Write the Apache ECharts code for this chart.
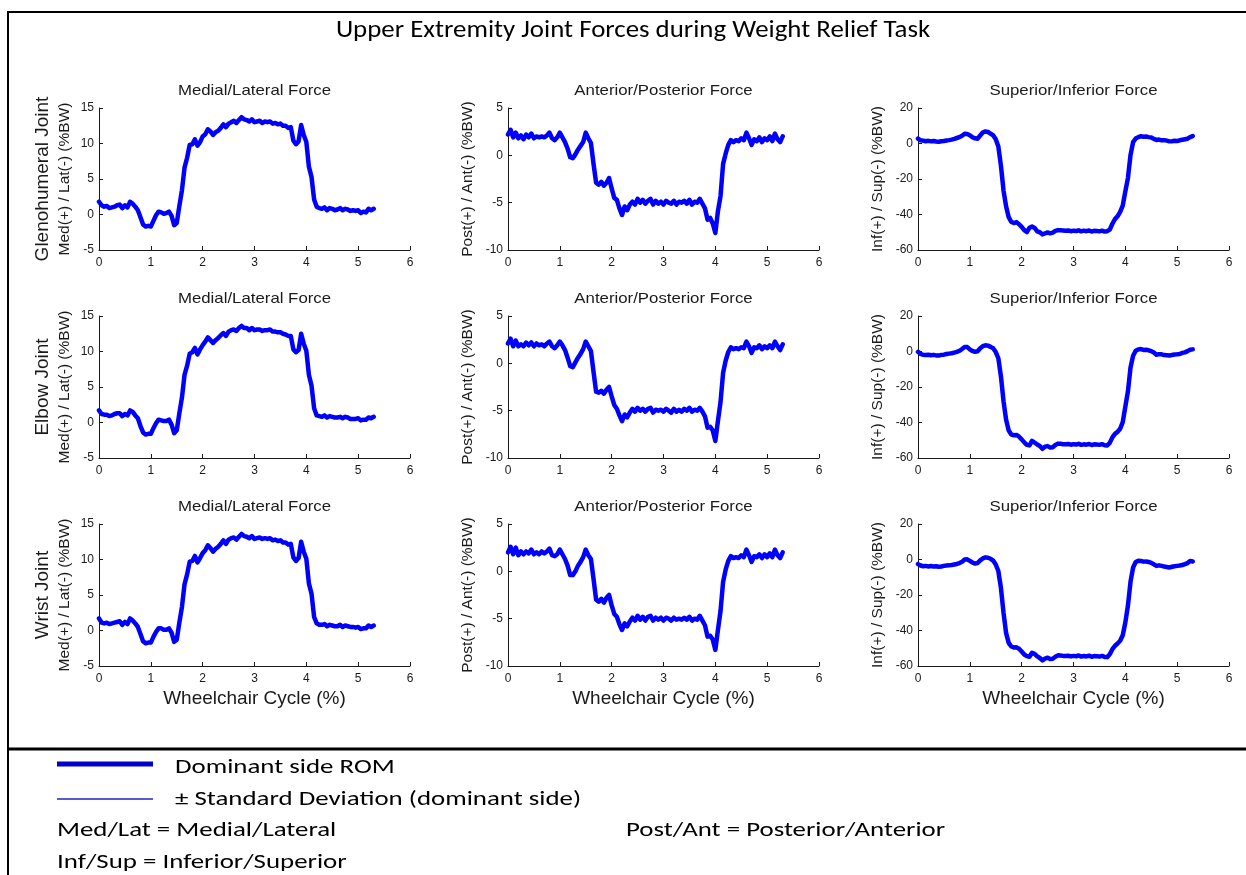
<!DOCTYPE html>
<html>
<head>
<meta charset="utf-8">
<title>Upper Extremity Joint Forces during Weight Relief Task</title>
<script src="https://cdn.jsdelivr.net/npm/echarts@6/dist/echarts.min.js"></script>
<style>
  html, body { margin: 0; padding: 0; background: #fff; }
  #chart { width: 1246px; height: 875px; }
</style>
</head>
<body>
<div id="chart"></div>
<script>
// Sample positions along the wheelchair cycle (%)
const cycle = [
  0.00,0.05,0.10,0.15,0.20,0.25,0.30,0.35,0.40,0.45,
  0.50,0.55,0.60,0.65,0.70,0.75,0.80,0.85,0.90,0.95,
  1.00,1.05,1.10,1.15,1.20,1.25,1.30,1.35,1.40,1.45,
  1.50,1.55,1.60,1.65,1.70,1.75,1.80,1.85,1.90,1.95,
  2.00,2.05,2.10,2.15,2.20,2.25,2.30,2.35,2.40,2.45,
  2.50,2.55,2.60,2.65,2.70,2.75,2.80,2.85,2.90,2.95,
  3.00,3.05,3.10,3.15,3.20,3.25,3.30,3.35,3.40,3.45,
  3.50,3.55,3.60,3.65,3.70,3.75,3.80,3.85,3.90,3.95,
  4.00,4.05,4.10,4.15,4.20,4.25,4.30,4.35,4.40,4.45,
  4.50,4.55,4.60,4.65,4.70,4.75,4.80,4.85,4.90,4.95,
  5.00,5.05,5.10,5.15,5.20,5.25,5.30
];

// Glenohumeral joint (%BW)
const shoulderMedLat = [
  1.8,1.3,1.1,1.2,0.9,1.0,1.1,1.3,1.4,0.9,
  1.3,1.0,1.8,1.5,1.1,0.6,-0.4,-1.4,-1.7,-1.6,
  -1.7,-0.9,-0.1,0.4,0.3,0.1,0.2,0.4,-0.2,-1.5,
  -1.2,1.2,3.4,6.6,8.0,9.8,9.9,10.6,9.7,10.2,
  11.0,11.3,12.0,11.7,11.2,11.6,11.8,12.2,12.7,12.3,
  12.8,13.0,13.2,12.9,13.3,13.7,13.4,13.3,13.1,13.4,
  13.0,13.1,13.2,12.9,13.1,13.0,13.1,12.8,12.9,12.7,
  12.8,12.5,12.5,12.2,12.3,10.4,9.9,10.3,12.6,11.2,
  10.2,6.7,5.3,2.1,1.1,0.9,0.8,1.0,0.6,0.9,
  0.8,0.6,0.7,0.9,0.6,0.8,0.7,0.5,0.6,0.5,
  0.6,0.2,0.4,0.3,0.8,0.6,0.8
];
const shoulderPostAnt = [
  2.2,2.7,1.9,2.4,1.8,2.1,1.7,2.2,1.9,2.3,
  1.8,2.0,1.9,2.0,1.9,2.1,2.4,1.8,1.6,1.9,
  2.4,1.9,1.4,0.7,-0.2,-0.3,0.1,0.6,1.0,1.4,
  2.4,1.8,1.3,-0.9,-2.9,-3.1,-2.8,-3.2,-2.9,-2.4,
  -3.5,-4.5,-4.7,-5.6,-6.3,-5.4,-5.8,-5.2,-4.9,-5.2,
  -4.6,-5.0,-4.7,-5.1,-4.8,-4.6,-5.2,-4.8,-5.1,-4.9,
  -5.2,-4.8,-5.0,-5.1,-4.8,-5.2,-4.9,-5.0,-4.8,-5.1,
  -4.7,-5.2,-4.9,-5.0,-4.6,-5.1,-5.6,-6.8,-6.6,-7.2,
  -8.2,-5.9,-4.3,-0.9,0.2,1.1,1.6,1.4,1.6,1.5,
  1.8,1.6,2.4,1.8,1.1,1.7,1.5,1.9,1.4,1.8,
  1.6,2.0,1.5,2.3,1.7,1.4,2.0
];
const shoulderInfSup = [
  2.8,1.8,1.6,1.3,1.5,1.2,1.4,1.1,1.0,1.3,
  1.4,1.7,1.9,2.2,2.6,3.1,3.6,4.4,5.5,5.4,
  4.7,3.5,2.9,2.7,4.5,6.2,6.8,6.5,5.6,4.6,
  2.4,-1.7,-12.5,-26.5,-35.5,-41.5,-44.2,-44.8,-44.3,-45.5,
  -47.0,-48.8,-49.9,-47.5,-46.8,-47.6,-49.5,-50.0,-51.2,-50.7,
  -50.1,-50.6,-50.2,-49.2,-48.8,-48.9,-49.0,-49.2,-49.0,-49.4,
  -49.1,-49.3,-48.9,-49.5,-49.1,-49.4,-49.0,-49.6,-49.2,-49.3,
  -49.5,-49.1,-49.6,-49.4,-48.5,-45.2,-42.6,-41.0,-38.5,-35.0,
  -27.0,-19.5,-6.5,0.8,2.8,3.6,4.1,3.8,3.9,3.6,
  3.4,2.6,2.0,2.2,1.8,1.9,1.6,1.2,1.3,1.5,
  1.4,1.8,2.1,2.4,2.7,3.6,4.2
];

// Elbow joint (%BW)
const elbowMedLat = [
  1.7,1.2,1.1,1.1,0.9,1.0,1.2,1.3,1.3,0.9,
  1.2,1.0,1.7,1.5,1.0,0.6,-0.5,-1.4,-1.7,-1.6,
  -1.6,-0.8,-0.1,0.4,0.3,0.2,0.2,0.4,-0.3,-1.5,
  -1.1,1.3,3.5,6.7,8.0,9.7,9.9,10.5,9.6,10.3,
  10.9,11.4,12.0,11.6,11.2,11.6,11.9,12.3,12.6,12.2,
  12.8,13.0,13.1,12.9,13.3,13.6,13.3,13.3,13.0,13.3,
  13.0,13.1,13.1,12.9,13.0,13.0,13.1,12.8,12.8,12.7,
  12.7,12.5,12.4,12.2,12.2,10.3,9.9,10.2,12.5,11.1,
  10.1,6.7,5.2,2.0,1.0,0.9,0.8,1.0,0.7,0.9,
  0.8,0.7,0.7,0.8,0.6,0.8,0.7,0.5,0.5,0.5,
  0.6,0.3,0.4,0.4,0.7,0.6,0.8
];
const elbowPostAnt = [
  2.1,2.6,1.8,2.4,1.8,2.0,1.8,2.2,1.9,2.2,
  1.8,2.1,1.9,2.0,1.8,2.1,2.3,1.8,1.6,1.9,
  2.3,1.9,1.4,0.6,-0.3,-0.4,0.1,0.6,1.0,1.5,
  2.3,1.8,1.3,-0.9,-3.0,-3.1,-2.9,-3.2,-2.8,-2.5,
  -3.5,-4.4,-4.8,-5.5,-6.1,-5.4,-5.7,-5.2,-4.8,-5.1,
  -4.7,-5.0,-4.8,-5.1,-4.8,-4.7,-5.2,-4.9,-5.0,-4.9,
  -5.1,-4.8,-5.0,-5.2,-4.8,-5.1,-4.9,-5.1,-4.8,-5.0,
  -4.7,-5.1,-4.9,-5.0,-4.7,-5.1,-5.6,-6.8,-6.7,-7.1,
  -8.2,-6.1,-4.1,-1.0,0.3,1.2,1.7,1.5,1.6,1.5,
  1.7,1.6,2.3,1.8,1.1,1.7,1.6,1.9,1.5,1.8,
  1.6,1.9,1.6,2.3,1.8,1.4,2.0
];
const elbowInfSup = [
  -0.2,-1.4,-1.9,-2.0,-1.8,-2.1,-1.9,-2.2,-2.3,-1.9,
  -1.8,-1.4,-1.2,-1.0,-0.6,-0.2,0.4,1.4,2.6,2.5,
  1.2,0.3,-0.2,0.1,1.8,3.0,3.5,3.3,2.6,1.8,
  -0.3,-3.8,-14.0,-28.0,-38.5,-44.5,-46.8,-47.2,-47.0,-48.0,
  -49.5,-51.2,-52.6,-52.9,-50.4,-51.3,-52.4,-53.2,-54.8,-53.6,
  -53.3,-54.1,-53.9,-52.7,-51.9,-52.0,-52.2,-52.3,-52.1,-52.5,
  -52.2,-52.4,-52.0,-52.6,-52.3,-52.5,-52.1,-52.7,-52.3,-52.4,
  -52.6,-52.2,-52.8,-52.9,-51.5,-48.4,-46.4,-45.3,-43.5,-39.8,
  -31.0,-22.5,-9.0,-2.4,0.4,1.2,1.4,0.9,1.0,0.7,
  0.2,-0.6,-1.8,-1.5,-1.6,-2.0,-2.1,-2.3,-2.0,-1.7,
  -1.6,-1.4,-0.8,-0.5,0.2,1.0,1.2
];

// Wrist joint (%BW)
const wristMedLat = [
  1.7,1.1,1.0,1.1,0.9,1.0,1.1,1.2,1.3,0.8,
  1.2,0.9,1.7,1.4,1.0,0.5,-0.5,-1.5,-1.8,-1.7,
  -1.7,-0.9,-0.2,0.3,0.3,0.1,0.1,0.3,-0.3,-1.6,
  -1.3,1.1,3.3,6.5,7.9,9.7,9.8,10.5,9.6,10.2,
  10.9,11.3,12.0,11.6,11.1,11.5,11.8,12.2,12.7,12.2,
  12.8,13.0,13.1,12.8,13.2,13.6,13.3,13.2,13.0,13.3,
  12.9,13.0,13.1,12.9,13.0,12.9,13.0,12.7,12.8,12.6,
  12.7,12.4,12.4,12.1,12.2,10.3,9.8,10.2,12.5,11.1,
  10.1,6.6,5.2,1.9,1.0,0.8,0.8,0.9,0.6,0.8,
  0.7,0.6,0.6,0.8,0.5,0.7,0.6,0.5,0.5,0.4,
  0.5,0.2,0.3,0.3,0.7,0.5,0.7
];
const wristPostAnt = [
  2.0,2.6,1.8,2.5,1.7,2.1,1.8,2.1,1.9,2.3,
  1.8,2.0,1.8,2.1,1.9,2.1,2.4,1.7,1.6,1.8,
  2.3,1.8,1.3,0.6,-0.4,-0.4,0.0,0.6,1.0,1.5,
  2.3,1.7,1.3,-0.8,-3.0,-3.2,-2.9,-3.3,-2.8,-2.5,
  -3.6,-4.5,-4.8,-5.6,-6.2,-5.5,-5.8,-5.3,-4.9,-5.2,
  -4.7,-5.1,-4.8,-5.2,-4.8,-4.7,-5.2,-4.9,-5.1,-4.9,
  -5.2,-4.9,-5.0,-5.2,-4.9,-5.1,-5.0,-5.1,-4.9,-5.1,
  -4.8,-5.2,-5.0,-5.1,-4.7,-5.2,-5.7,-6.9,-6.8,-7.2,
  -8.3,-6.2,-4.2,-1.1,0.2,1.1,1.6,1.4,1.5,1.4,
  1.7,1.5,2.3,1.7,1.0,1.6,1.5,1.8,1.4,1.8,
  1.5,1.9,1.5,2.3,1.7,1.4,2.0
];
const wristInfSup = [
  -2.6,-3.4,-3.8,-3.6,-3.9,-3.7,-4.0,-3.8,-4.1,-3.9,
  -3.6,-3.4,-3.3,-3.1,-2.8,-2.5,-2.0,-1.3,0.0,0.1,
  -0.8,-1.7,-2.3,-2.0,-0.5,0.6,1.2,1.0,0.4,-0.6,
  -2.8,-6.5,-16.0,-30.0,-41.5,-47.0,-49.0,-49.6,-49.5,-50.3,
  -51.8,-53.5,-54.4,-54.8,-52.6,-53.2,-54.6,-55.5,-56.8,-55.8,
  -55.3,-56.1,-55.9,-54.8,-54.0,-54.1,-54.3,-54.4,-54.2,-54.6,
  -54.3,-54.5,-54.1,-54.7,-54.4,-54.6,-54.2,-54.8,-54.4,-54.5,
  -54.7,-54.3,-54.9,-55.0,-53.4,-50.5,-48.6,-47.3,-45.8,-42.7,
  -35.5,-26.0,-12.5,-4.5,-1.4,-0.7,-0.8,-1.2,-1.1,-1.4,
  -1.9,-2.7,-3.6,-3.3,-3.6,-4.0,-4.2,-4.5,-4.1,-3.8,
  -3.6,-3.4,-3.1,-2.6,-2.0,-0.8,-1.1
];

// Labels
const mainTitle = 'Upper Extremity Joint Forces during Weight Relief Task';
const jointNames = ['Glenohumeral Joint', 'Elbow Joint', 'Wrist Joint'];
const forceTitles = ['Medial/Lateral Force', 'Anterior/Posterior Force', 'Superior/Inferior Force'];
const forceAxisNames = ['Med(+) / Lat(-) (%BW)', 'Post(+) / Ant(-) (%BW)', 'Inf(+) / Sup(-) (%BW)'];
const cycleAxisName = 'Wheelchair Cycle (%)';
const yMins = [-5, -10, -60];
const yMaxs = [15, 5, 20];
const yIntervals = [5, 5, 20];
const xMin = 0, xMax = 6, xInterval = 1;
const legendEntries = ['Dominant side ROM', '\u00B1 Standard Deviation (dominant side)'];
const abbreviations = ['Med/Lat = Medial/Lateral', 'Post/Ant = Posterior/Anterior', 'Inf/Sup = Inferior/Superior'];

const panelData = [
  [shoulderMedLat, shoulderPostAnt, shoulderInfSup],
  [elbowMedLat, elbowPostAnt, elbowInfSup],
  [wristMedLat, wristPostAnt, wristInfSup]
];

// Panel layout (pixels)
const colLeft = [99, 508, 918];
const rowTop = [108, 316, 524];
const plotW = 311;
const plotH = 142;

const axisFont = '"Liberation Sans", Arial, Helvetica, sans-serif';
const noteFont = 'Carlito, Calibri, Lato, sans-serif';
const axisColor = '#1a1a1a';
const textColor = '#1a1a1a';

const grids = [], xAxes = [], yAxes = [], series = [], graphics = [];

// Text placed at an anchor point, optionally stretched horizontally
function label(text, x, y, font, opts) {
  opts = opts || {};
  return {
    type: 'text', silent: true, z: 10,
    x: x, y: y,
    rotation: opts.rotation || 0,
    scaleX: opts.scaleX || 1,
    style: {
      text: text, x: 0, y: 0,
      textAlign: opts.align || 'center', textVerticalAlign: 'middle',
      font: font, fill: opts.color || textColor
    }
  };
}

graphics.push({
  type: 'rect', silent: true, z: 10,
  shape: { x: 8, y: 12, width: 1300, height: 900 },
  style: { fill: 'none', stroke: '#000', lineWidth: 2 }
});
graphics.push({
  type: 'line', silent: true, z: 10,
  shape: { x1: 8, y1: 749, x2: 1246, y2: 749 },
  style: { stroke: '#000', lineWidth: 3 }
});
graphics.push(label(mainTitle, 633, 31, '25px ' + noteFont, { scaleX: 1.075, color: '#000' }));

for (let r = 0; r < 3; r++) {
  const cy = rowTop[r] + plotH / 2;
  graphics.push(label(jointNames[r], 43, cy, '19px ' + axisFont, { rotation: Math.PI / 2 }));
  for (let c = 0; c < 3; c++) {
    const i = r * 3 + c;
    const cx = colLeft[c] + plotW / 2;
    grids.push({ left: colLeft[c], top: rowTop[r], width: plotW, height: plotH, containLabel: false });
    xAxes.push({
      type: 'value', gridIndex: i, min: xMin, max: xMax, interval: xInterval,
      axisLine: { show: true, onZero: false, lineStyle: { color: axisColor, width: 1 } },
      axisTick: { show: true, inside: true, length: 4, lineStyle: { color: axisColor } },
      axisLabel: { show: true, margin: 7, fontSize: 12, fontFamily: axisFont, color: textColor },
      splitLine: { show: false }
    });
    yAxes.push({
      type: 'value', gridIndex: i, min: yMins[c], max: yMaxs[c], interval: yIntervals[c],
      axisLine: { show: true, onZero: false, lineStyle: { color: axisColor, width: 1 } },
      axisTick: { show: true, inside: true, length: 4, lineStyle: { color: axisColor } },
      axisLabel: { show: true, margin: 5, fontSize: 12, fontFamily: axisFont, color: textColor },
      splitLine: { show: false }
    });
    series.push({
      type: 'line', xAxisIndex: i, yAxisIndex: i,
      data: cycle.map((x, k) => [x, panelData[r][c][k]]),
      showSymbol: false, silent: true, animation: false,
      lineStyle: { color: '#0000FF', width: 4.5, join: 'round', cap: 'round' }
    });
    graphics.push(label(forceTitles[c], cx, rowTop[r] - 17, '15px ' + axisFont, { scaleX: 1.12 }));
    graphics.push(label(forceAxisNames[c], colLeft[c] - (c === 0 ? 34 : 40), cy, '15.5px ' + axisFont,
                        { rotation: Math.PI / 2 }));
    if (r === 2) {
      graphics.push(label(cycleAxisName, cx, rowTop[r] + plotH + 33, '19px ' + axisFont));
    }
  }
}

// Legend and abbreviation notes
graphics.push({
  type: 'line', silent: true, z: 10,
  shape: { x1: 57, y1: 764, x2: 153, y2: 764 },
  style: { stroke: '#0000CC', lineWidth: 5 }
});
graphics.push({
  type: 'line', silent: true, z: 10,
  shape: { x1: 57, y1: 799, x2: 153, y2: 799 },
  style: { stroke: '#2222C0', lineWidth: 1.5 }
});
const noteFontSpec = '21px ' + noteFont;
const noteOpts = { align: 'left', scaleX: 1.28, color: '#000' };
graphics.push(label(legendEntries[0], 175, 768, noteFontSpec, noteOpts));
graphics.push(label(legendEntries[1], 175, 800, noteFontSpec, noteOpts));
graphics.push(label(abbreviations[0], 57, 831, noteFontSpec, noteOpts));
graphics.push(label(abbreviations[1], 626, 831, noteFontSpec, noteOpts));
graphics.push(label(abbreviations[2], 57, 863, noteFontSpec, noteOpts));

const chart = echarts.init(document.getElementById('chart'), null, { renderer: 'canvas' });
chart.setOption({
  backgroundColor: '#fff',
  animation: false,
  grid: grids,
  xAxis: xAxes,
  yAxis: yAxes,
  series: series,
  graphic: graphics
});
</script>
</body>
</html>
